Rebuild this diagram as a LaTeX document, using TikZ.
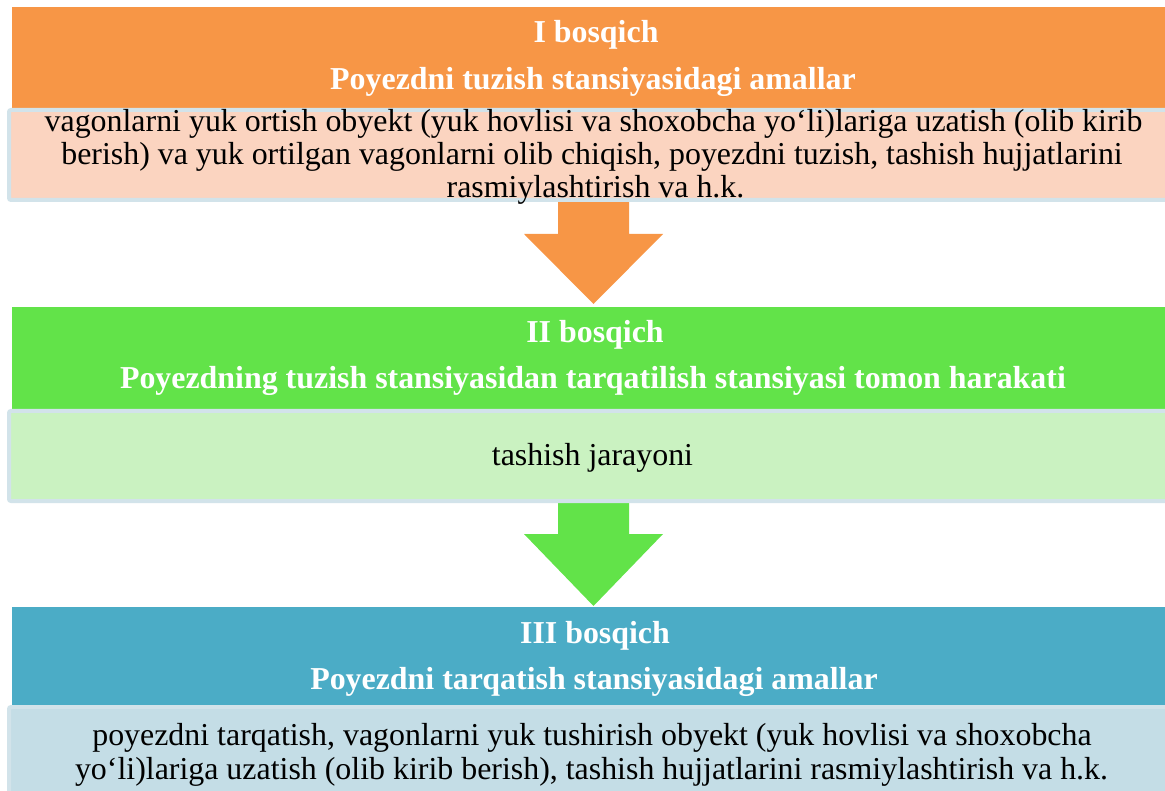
\documentclass[tikz,border=0pt]{standalone}
\usepackage{fontspec}
\setmainfont{Liberation Serif}
\usetikzlibrary{calc}
\definecolor{o1}{HTML}{F79646}
\definecolor{o2}{HTML}{FBD4C0}
\definecolor{g1}{HTML}{62E349}
\definecolor{g2}{HTML}{CAF2C1}
\definecolor{b1}{HTML}{4BACC6}
\definecolor{b2}{HTML}{C4DDE6}
\definecolor{bord}{HTML}{D2E3EA}
\tikzset{
  hdrbox/.style={rectangle, anchor=north west, inner sep=0pt, outer sep=0pt, minimum width=1168pt, minimum height=101pt},
  bodybox/.style={rectangle, anchor=north west, inner sep=0pt, outer sep=0pt, draw=bord, line width=4pt, rounded corners=2pt, minimum width=1171pt, minimum height=90pt},
  htext/.style={anchor=base, inner sep=0pt, text=white, font=\fontsize{31.9}{33}\selectfont\bfseries},
  btext/.style={anchor=base, inner sep=0pt, text=black, font=\fontsize{31.9}{33}\selectfont},
}
\begin{document}
\begin{tikzpicture}[x=1pt,y=-1pt]
\useasboundingbox (0,0) rectangle (1165,791);
\clip (0,0) rectangle (1165,791);
% arrows
\coordinate (a1) at (593.5,202);
\coordinate (a2) at (593.5,502);
\foreach \a/\c/\t in {a1/o1/102, a2/g1/104}{
  \fill[\c] ($(\a)+(-35.5,0)$) -- ($(\a)+(35.5,0)$) -- ($(\a)+(35.5,32)$) -- ($(\a)+(69.5,32)$)
    -- ($(\a)+(0,\t)$) -- ($(\a)+(-69.5,32)$) -- ($(\a)+(-35.5,32)$) -- cycle;
}
% stage I
\node[hdrbox, fill=o1] (h1) at (12,7) {};
\node[bodybox, fill=o2] (b1) at (9,110) {};
\node[htext] (h1a) at (596,43) {I bosqich};
\node[htext] (h1b) at (593,90) {Poyezdni tuzish stansiyasidagi amallar};
\node[btext] (b1a) at (593.5,132) {vagonlarni yuk ortish obyekt (yuk hovlisi va shoxobcha yo‘li)lariga uzatish (olib kirib};
\node[btext] (b1b) at (592,165) {berish) va yuk ortilgan vagonlarni olib chiqish, poyezdni tuzish, tashish hujjatlarini};
\node[btext] (b1c) at (595.5,198) {rasmiylashtirish va h.k.};
% stage II
\node[hdrbox, fill=g1, minimum height=102pt] (h2) at (12,307) {};
\node[bodybox, fill=g2] (b2) at (9,411) {};
\node[htext] (h2a) at (595,343) {II bosqich};
\node[htext] (h2b) at (593,389) {Poyezdning tuzish stansiyasidan tarqatilish stansiyasi tomon harakati};
\node[btext] (b2a) at (592.5,465) {tashish jarayoni};
% stage III
\node[hdrbox, fill=b1, minimum height=98pt] (h3) at (12,607) {};
\node[bodybox, fill=b2, minimum height=100pt] (b3) at (9,707) {};
\node[htext] (h3a) at (595,643) {III bosqich};
\node[htext] (h3b) at (594,689) {Poyezdni tarqatish stansiyasidagi amallar};
\node[btext] (b3a) at (592,745) {poyezdni tarqatish, vagonlarni yuk tushirish obyekt (yuk hovlisi va shoxobcha};
\node[btext] (b3b) at (591.5,779) {yo‘li)lariga uzatish (olib kirib berish), tashish hujjatlarini rasmiylashtirish va h.k.};
\end{tikzpicture}
\end{document}
